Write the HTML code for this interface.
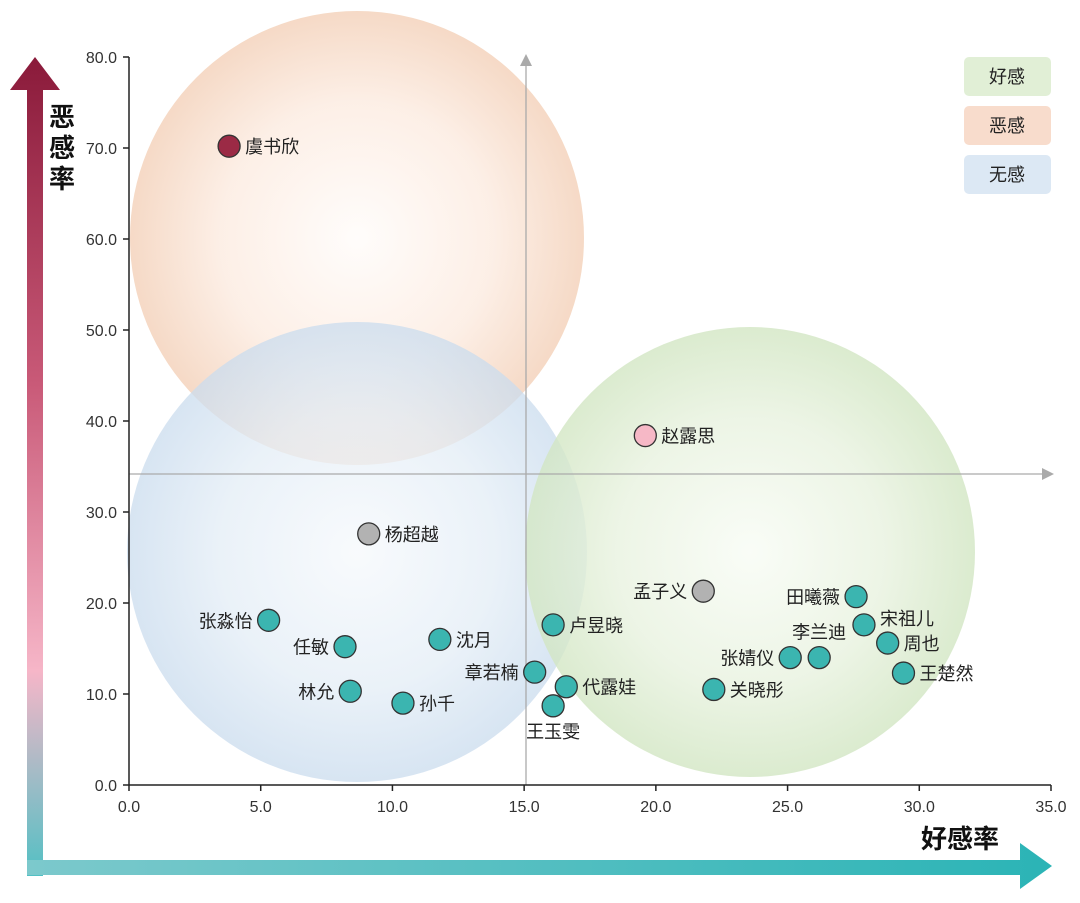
<!DOCTYPE html>
<html><head><meta charset="utf-8"><style>
body{margin:0;background:#fff;}
svg{display:block;font-family:"Liberation Sans","Noto Sans CJK SC",sans-serif;}
</style></head><body>
<svg id="chart" width="1080" height="903" viewBox="0 0 1080 903">
<defs>
<radialGradient id="gO" cx="0.5" cy="0.5" r="0.5"><stop offset="0" stop-color="#fffcfa"/><stop offset="0.6" stop-color="#fcebe0"/><stop offset="1" stop-color="#f3d0b8"/></radialGradient>
<radialGradient id="gB" cx="0.5" cy="0.5" r="0.5"><stop offset="0" stop-color="#f6f9fc"/><stop offset="0.6" stop-color="#e3edf6"/><stop offset="1" stop-color="#cadcee"/></radialGradient>
<radialGradient id="gG" cx="0.5" cy="0.5" r="0.5"><stop offset="0" stop-color="#f8fcf5"/><stop offset="0.6" stop-color="#e8f2df"/><stop offset="1" stop-color="#d2e6c3"/></radialGradient>
<linearGradient id="gV" x1="0" y1="0" x2="0" y2="1"><stop offset="0" stop-color="#8a1a3a"/><stop offset="0.4" stop-color="#c95a78"/><stop offset="0.75" stop-color="#f6b6c8"/><stop offset="1" stop-color="#52c0c4"/></linearGradient>
<linearGradient id="gH" x1="0" y1="0" x2="1" y2="0"><stop offset="0" stop-color="#7cc9cc"/><stop offset="1" stop-color="#2bb4b6"/></linearGradient>
</defs>
<g id="bg"></g>
<g id="axes"></g>
<g id="pts"></g>
</svg>
<script>
const names=["虞书欣","赵露思","杨超越","孟子义","田曦薇","宋祖儿","周也","王楚然","李兰迪","张婧仪","关晓彤","张淼怡","任敏","沈月","卢昱晓","章若楠","代露娃","王玉雯","林允","孙千"];
const goodRate=[3.8,19.6,9.1,21.8,27.6,27.9,28.8,29.4,26.2,25.1,22.2,5.3,8.2,11.8,16.1,15.4,16.6,16.1,8.4,10.4];
const badRate=[70.2,38.4,27.6,21.3,20.7,17.6,15.6,12.3,14.0,14.0,10.5,18.1,15.2,16.0,17.6,12.4,10.8,8.7,10.3,9.0];
const groups=["bad","good","none","none","good","good","good","good","good","good","good","good","good","good","good","good","good","good","good","good"];
const xTicks=[0,5,10,15,20,25,30,35];
const yTicks=[0,10,20,30,40,50,60,70,80];
const labelSide=["r","r","r","l","l","tr","r","r","tl","l","r","l","l","r","r","l","r","b","l","r"];
const X=v=>129+v*(1051-129)/35, Y=v=>785-v*(785-57)/80;
const NS="http://www.w3.org/2000/svg";
function mk(p,t,a){const e=document.createElementNS(NS,t);for(const k in a)e.setAttribute(k,a[k]);p.appendChild(e);return e;}
const bg=document.getElementById('bg'),ax=document.getElementById('axes'),pts=document.getElementById('pts');
let c;
c=mk(bg,'circle',{cx:357,cy:238,r:227,fill:'url(#gO)',opacity:0.8});

c=mk(bg,'circle',{cx:357,cy:552,r:230,fill:'url(#gB)',opacity:0.75});

c=mk(bg,'circle',{cx:750,cy:552,r:225,fill:'url(#gG)',opacity:0.8});

c=mk(ax,'line',{x1:526,y1:785,x2:526,y2:62,stroke:'#aaa','stroke-width':1.3});

mk(ax,'path',{d:'M520,66 L526,54 L532,66 Z',fill:'#aaa'});
c=mk(ax,'line',{x1:129,y1:474,x2:1046,y2:474,stroke:'#aaa','stroke-width':1.3});

mk(ax,'path',{d:'M1042,468 L1054,474 L1042,480 Z',fill:'#aaa'});
c=mk(ax,'line',{x1:129,y1:57,x2:129,y2:785,stroke:'#222','stroke-width':1.5});

c=mk(ax,'line',{x1:129,y1:785,x2:1051,y2:785,stroke:'#222','stroke-width':1.5});

yTicks.forEach(v=>{mk(ax,'line',{x1:123,x2:129,y1:Y(v),y2:Y(v),stroke:'#222','stroke-width':1.5});
 const t=mk(ax,'text',{x:117,y:Y(v)+6,'text-anchor':'end','font-size':16,fill:'#333'});t.textContent=v.toFixed(1);
 });
xTicks.forEach(v=>{mk(ax,'line',{x1:X(v),x2:X(v),y1:785,y2:791,stroke:'#222','stroke-width':1.5});
 const t=mk(ax,'text',{x:X(v),y:812,'text-anchor':'middle','font-size':16,fill:'#333'});t.textContent=v.toFixed(1);
 });
c=mk(ax,'path',{d:'M27,876 L27,90 L10,90 L35,57 L60,90 L43,90 L43,876 Z',fill:'url(#gV)'});

c=mk(ax,'path',{d:'M27,860 L1020,860 L1020,843 L1052,866 L1020,889 L1020,875 L27,875 Z',fill:'url(#gH)'});

["恶","感","率"].forEach((ch,i)=>{const t=mk(ax,'text',{x:62,y:126+i*31,'text-anchor':'middle','font-size':26,'font-weight':'bold',fill:'#111'});t.textContent=ch;
 });
c=mk(ax,'text',{x:960,y:848,'text-anchor':'middle','font-size':26,'font-weight':'bold',fill:'#111'});c.textContent="好感率";

[["好感","#e1efd6"],["恶感","#f8dccc"],["无感","#dce8f4"]].forEach((l,i)=>{
 const g=mk(ax,'g',{});
 mk(g,'rect',{x:964,y:57+i*49,width:87,height:39,rx:5,fill:l[1]});
 const t=mk(g,'text',{x:1007,y:83+i*49,'text-anchor':'middle','font-size':18,fill:'#222'});t.textContent=l[0];});
const col={bad:'#9b2a45',good:'#3bb5b0',none:'#b2b2b2'};
names.forEach((n,i)=>{
 const cx=X(goodRate[i]),cy=Y(badRate[i]);
 const g=mk(pts,'g',{});
 let f=col[groups[i]]; if(n==="赵露思")f='#f6b8c6';
 mk(g,'circle',{cx:cx,cy:cy,r:11,fill:f,stroke:'#333','stroke-width':1.3});
 const s=labelSide[i];
 let a;
 if(s==='r')a={x:cx+16,y:cy+7,'text-anchor':'start'};
 else if(s==='l')a={x:cx-16,y:cy+7,'text-anchor':'end'};
 else if(s==='b')a={x:cx,y:cy+32,'text-anchor':'middle'};
 else if(s==='tr')a={x:cx+16,y:cy,'text-anchor':'start'};
 else a={x:cx+27,y:cy-19,'text-anchor':'end'};
 a['font-size']=18;a.fill='#222';
 const t=mk(g,'text',a);t.textContent=n;});
</script>
</body></html>
